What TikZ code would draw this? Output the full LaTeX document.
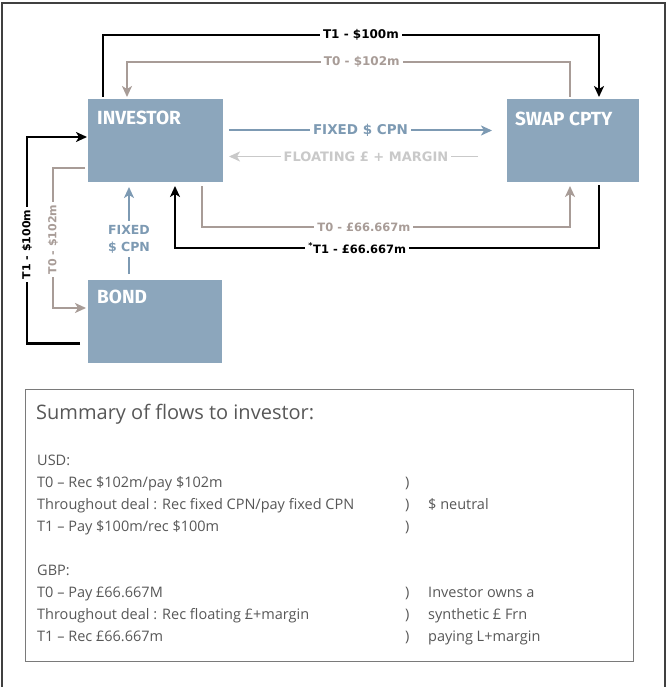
\documentclass[tikz,border=0pt]{standalone}
\usepackage{fontspec}
\setmainfont{Open Sans}
\newfontfamily\lblfont{DejaVu Sans}
\newfontfamily\boxfont{Fira Sans}
\usetikzlibrary{arrows.meta}
\definecolor{boxblue}{HTML}{8CA6BC}
\definecolor{lblue}{HTML}{7D9AB3}
\definecolor{taupe}{HTML}{A89C97}
\definecolor{lgrey}{HTML}{C9C9C9}
\definecolor{txtgrey}{HTML}{575757}
\definecolor{sumgrey}{HTML}{7A7A7A}
\definecolor{framegrey}{HTML}{404040}
\begin{document}
\begin{tikzpicture}[x=1pt,y=-1pt,
  entity/.style={draw=none, fill=boxblue, minimum width=135pt, minimum height=83pt, anchor=north west, inner sep=0pt, outer sep=0pt},
  entlbl/.style={anchor=north west, text=white, inner sep=0pt, font=\boxfont\bfseries\fontsize{19}{19}\selectfont},
  tip/.style={-{Stealth[length=11pt,width=10pt,inset=3pt]}},
  flowblk/.style={tip, line width=2.4pt, draw=black},
  flowtaupe/.style={tip, line width=2pt, draw=taupe},
  flowblue/.style={tip, line width=2pt, draw=lblue},
  flowlgrey/.style={tip, line width=1.6pt, draw=lgrey},
  lbl/.style={fill=white, inner xsep=3pt, inner ysep=1pt, font=\lblfont\bfseries\fontsize{12}{12}\selectfont},
  sumtxt/.style={anchor=base west, inner sep=0pt, text=txtgrey, font=\fontsize{14.5}{14.5}\selectfont},
  sumtitle/.style={anchor=base west, inner sep=0pt, text=txtgrey, font=\fontsize{20}{20}\selectfont}
]
\useasboundingbox (0,0) rectangle (666,687);
% outer frame
\draw[framegrey, line width=2pt] (1.5,700) -- (1.5,3) -- (664.5,3) -- (664.5,700);

% entities
\node[entity] (inv) at (88,99) {};
\node[entity, minimum width=132pt] (swap) at (507,99) {};
\node[entity, minimum width=134pt] (bond) at (88,280) {};
\node[entlbl] (invt) at (97,111) {INVESTOR};
\node[entlbl] (swapt) at (515,112) {SWAP CPTY};
\node[entlbl] (bondt) at (97,290) {BOND};

% top: T1 - $100m (black)
\draw[flowblk] ([xshift=15pt,yshift=2pt]inv.north west) -- ([xshift=15pt,yshift=64pt]inv.north west)
  -- node[lbl,pos=0.52]{T1 - \$100m} ([xshift=92pt,yshift=64pt]swap.north west)
  -- ([xshift=92pt,yshift=2pt]swap.north west);
% top: T0 - $102m (taupe)
\draw[flowtaupe] ([xshift=63pt,yshift=2pt]swap.north west) -- ([xshift=63pt,yshift=37pt]swap.north west)
  -- node[lbl,text=taupe,pos=0.47]{T0 - \$102m} ([xshift=39pt,yshift=37pt]inv.north west)
  -- ([xshift=39pt,yshift=2pt]inv.north west);

% fixed $ cpn
\draw[flowblue] ([xshift=6pt,yshift=10pt]inv.east)
  -- node[lbl,text=lblue,font=\lblfont\bfseries\fontsize{13.5}{13.5}\selectfont]{FIXED \$ CPN} ([xshift=-15pt,yshift=10pt]swap.west);
% floating
\draw[flowlgrey] ([xshift=-29pt,yshift=-16pt]swap.west)
  -- node[lbl,text=lgrey,pos=0.45,font=\lblfont\bfseries\fontsize{13}{13}\selectfont]{FLOATING £ + MARGIN} ([xshift=6pt,yshift=-16pt]inv.east);

% bottom: T0 - £66.667m (taupe)
\draw[flowtaupe] ([xshift=114pt,yshift=-4pt]inv.south west) -- ([xshift=114pt,yshift=-45pt]inv.south west)
  -- node[lbl,text=taupe,pos=0.44,font=\lblfont\bfseries\fontsize{11.5}{11.5}\selectfont]{T0 - £66.667m} ([xshift=63pt,yshift=-45pt]swap.south west)
  -- ([xshift=63pt,yshift=-4pt]swap.south west);
% bottom: T1 - £66.667m (black)
\draw[flowblk] ([xshift=92pt,yshift=-3pt]swap.south west) -- ([xshift=92pt,yshift=-66pt]swap.south west)
  -- node[lbl,pos=0.57,font=\lblfont\bfseries\fontsize{11.5}{11.5}\selectfont]{\textsuperscript{*}T1 - £66.667m} ([xshift=87pt,yshift=-66pt]inv.south west)
  -- ([xshift=87pt,yshift=-4pt]inv.south west);

% bond fixed $ cpn
\draw[flowblue] ([xshift=41pt,yshift=6pt]bond.north west)
  -- node[lbl,text=lblue,align=center,pos=0.4,inner ysep=4pt,font=\lblfont\bfseries\fontsize{12.5}{17}\selectfont]{FIXED\\\$ CPN} ([xshift=41pt,yshift=-5pt]inv.south west);

% left: T1 - $100m (black)
\draw[flowblk] ([xshift=-8pt,yshift=-22pt]bond.west) -- ([xshift=-61pt,yshift=-22pt]bond.west)
  -- node[lbl,rotate=90,pos=0.48,font=\lblfont\bfseries\fontsize{11}{11}\selectfont]{T1 - \$100m} ([xshift=-61pt,yshift=3.5pt]inv.west)
  -- ([xshift=-1pt,yshift=3.5pt]inv.west);
% left: T0 - $102m (taupe)
\draw[flowtaupe] ([xshift=-3pt,yshift=-27.5pt]inv.west) -- ([xshift=-35pt,yshift=-27.5pt]inv.west)
  -- node[lbl,rotate=90,text=taupe,pos=0.51,font=\lblfont\bfseries\fontsize{11}{11}\selectfont]{T0 - \$102m} ([xshift=-35pt,yshift=13.5pt]bond.west)
  -- ([xshift=-2pt,yshift=13.5pt]bond.west);

% summary box
\node[draw=sumgrey, line width=0.9pt, minimum width=608pt, minimum height=272pt, anchor=north west, inner sep=0pt] (sum) at (25,389) {};
\node[sumtitle] (title) at (36,419) {Summary of flows to investor:};
\node[sumtxt] (usd) at (37,465) {USD:};
\node[sumtxt] (u1) at (37,487) {T0 – Rec \$102m/pay \$102m};
\node[sumtxt] (u2) at (37,509) {Throughout deal : Rec fixed CPN/pay fixed CPN};
\node[sumtxt] (u3) at (37,531) {T1 – Pay \$100m/rec \$100m};
\node[sumtxt] (ub1) at (405,487) {)};
\node[sumtxt] (ub2) at (405,509) {)};
\node[sumtxt] (ub3) at (405,531) {)};
\node[sumtxt] (ur) at (428,509) {\$ neutral};
\node[sumtxt] (gbp) at (37,575) {GBP:};
\node[sumtxt] (g1) at (37,597) {T0 – Pay £66.667M};
\node[sumtxt] (g2) at (37,619) {Throughout deal : Rec floating £+margin};
\node[sumtxt] (g3) at (37,641) {T1 – Rec £66.667m};
\node[sumtxt] (gb1) at (405,597) {)};
\node[sumtxt] (gb2) at (405,619) {)};
\node[sumtxt] (gb3) at (405,641) {)};
\node[sumtxt] (gr1) at (428,597) {Investor owns a};
\node[sumtxt] (gr2) at (428,619) {synthetic £ Frn};
\node[sumtxt] (gr3) at (428,641) {paying L+margin};
\end{tikzpicture}
\end{document}
